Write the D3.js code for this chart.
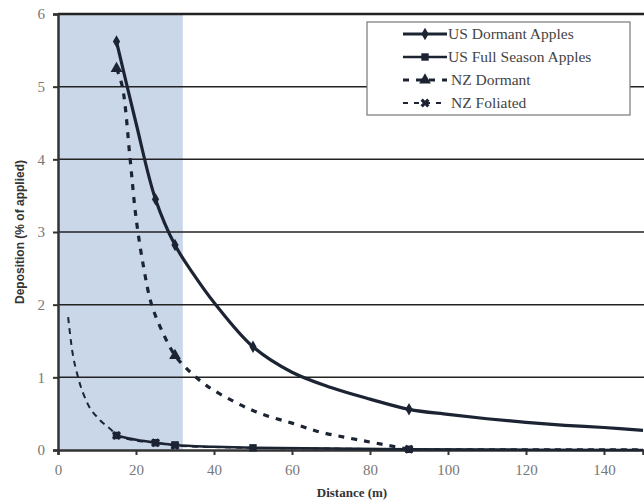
<!DOCTYPE html>
<html>
<head>
<meta charset="utf-8">
<script src="https://cdn.jsdelivr.net/npm/d3@7"></script>
<style>
	body { margin: 0; background: #fff; }
	svg { display: block; }
</style>
</head>
<body>
<svg id="plot" width="644" height="504"></svg>
<script>
// measured points (markers)
const US_DORMANT_X = [15, 25, 30, 50, 90];
const US_DORMANT_Y = [5.62, 3.45, 2.82, 1.42, 0.56];
const US_FULL_X = [15, 25, 30, 50, 90];
const US_FULL_Y = [0.20, 0.10, 0.07, 0.03, 0.01];
const NZ_DORMANT_X = [15, 30];
const NZ_DORMANT_Y = [5.25, 1.30];
const NZ_FOLIATED_X = [15, 25, 30, 90];
const NZ_FOLIATED_Y = [0.20, 0.10, 0.06, 0.01];

// fitted curves
const US_DORMANT_CURVE_X = [15, 20, 25, 30, 35, 40, 50, 60, 70, 80, 90, 100, 110, 120, 130, 140, 150];
const US_DORMANT_CURVE_Y = [5.62, 4.5, 3.45, 2.82, 2.4, 2.03, 1.42, 1.07, 0.86, 0.70, 0.56, 0.49, 0.43, 0.38, 0.34, 0.31, 0.27];
const US_FULL_CURVE_X = [15, 20, 25, 30, 40, 50, 70, 90, 120, 150];
const US_FULL_CURVE_Y = [0.20, 0.14, 0.10, 0.07, 0.045, 0.03, 0.02, 0.01, 0.005, 0.0];
const NZ_DORMANT_CURVE_X = [15, 16.5, 18.5, 20, 22, 24, 27, 30, 33, 38, 45, 52, 60, 67, 74, 80, 85, 90];
const NZ_DORMANT_CURVE_Y = [5.25, 5.0, 4.0, 3.2, 2.5, 2.0, 1.6, 1.3, 1.12, 0.89, 0.67, 0.5, 0.37, 0.25, 0.17, 0.11, 0.06, 0.01];
const NZ_FOLIATED_CURVE_X = [2.6, 3.5, 5.2, 7.4, 10.8, 13.8, 15, 20, 25, 30, 40, 50, 70, 90, 110, 130, 150];
const NZ_FOLIATED_CURVE_Y = [1.83, 1.42, 0.99, 0.66, 0.41, 0.27, 0.2, 0.13, 0.1, 0.06, 0.04, 0.03, 0.02, 0.01, 0.01, 0.01, 0.01];

const X_TICKS = [0, 20, 40, 60, 80, 100, 120, 140];
const Y_TICKS = [0, 1, 2, 3, 4, 5, 6];
const SHADE_X = [0, 32];
const LEGEND_LABELS = ['US Dormant Apples', 'US Full Season Apples', 'NZ Dormant', 'NZ Foliated'];

const INK = '#1c2433';

function zip(xs, ys) {
	return xs.map((x, i) => ({ x: x, y: ys[i] }));
}

function drawChart() {
	const svg = d3.select('#plot');
	const x = d3.scaleLinear().domain([0, 150]).range([58, 643]);
	const y = d3.scaleLinear().domain([0, 6]).range([450, 14]);

	/* shaded band near the orchard */
	svg.append('rect')
		.attr('x', x(SHADE_X[0]))
		.attr('y', y(6))
		.attr('width', x(SHADE_X[1]) - x(SHADE_X[0]))
		.attr('height', y(0) - y(6))
		.style('fill', '#c9d7e8');

	/* horizontal grid */
	svg.append('g')
		.selectAll('line')
		.data(Y_TICKS.filter(d => d > 0))
		.enter().append('line')
			.attr('x1', x(0))
			.attr('x2', 644)
			.attr('y1', d => y(d))
			.attr('y2', d => y(d))
			.style('stroke', '#222')
			.style('stroke-width', d => d === 6 ? 2.5 : 1.5);

	/* axes */
	const yAxis = svg.append('g')
		.attr('transform', `translate(${x(0)},0)`)
		.call(d3.axisLeft(y).tickValues(Y_TICKS).tickSize(5).tickFormat(d3.format('d')));
	const xAxis = svg.append('g')
		.attr('transform', `translate(0,${y(0)})`)
		.call(d3.axisBottom(x).tickValues(X_TICKS).tickSize(5).tickFormat(d3.format('d')));
	[yAxis, xAxis].forEach(g => {
		g.select('.domain').style('stroke', '#333').style('stroke-width', 2.5);
		g.selectAll('.tick line').style('stroke', '#333').style('stroke-width', 2);
		g.selectAll('.tick text')
			.style('font-family', 'Liberation Serif, serif')
			.style('font-size', '15px')
			.style('fill', '#777');
	});
	yAxis.selectAll('.tick text').attr('x', -13);
	xAxis.selectAll('.tick text').attr('y', 14);

	/* curves */
	const smooth = d3.line()
		.x(d => x(d.x))
		.y(d => y(d.y))
		.curve(d3.curveCatmullRom.alpha(0.5));
	const flat = d3.line()
		.x(d => x(d.x))
		.y(d => y(d.y))
		.curve(d3.curveMonotoneX);

	svg.append('path')
		.attr('d', flat(zip(NZ_FOLIATED_CURVE_X, NZ_FOLIATED_CURVE_Y)))
		.style('fill', 'none').style('stroke', INK)
		.style('stroke-width', 2).style('stroke-dasharray', '6,5');
	svg.append('path')
		.attr('d', smooth(zip(NZ_DORMANT_CURVE_X, NZ_DORMANT_CURVE_Y)))
		.style('fill', 'none').style('stroke', INK)
		.style('stroke-width', 3.2).style('stroke-dasharray', '6,7');
	svg.append('path')
		.attr('d', flat(zip(US_FULL_CURVE_X, US_FULL_CURVE_Y)))
		.style('fill', 'none').style('stroke', INK)
		.style('stroke-width', 2.5);
	svg.append('path')
		.attr('d', smooth(zip(US_DORMANT_CURVE_X, US_DORMANT_CURVE_Y)))
		.style('fill', 'none').style('stroke', INK)
		.style('stroke-width', 3.2);

	/* markers */
	const sym = (type, size) => d3.symbol().type(type).size(size)();
	const series = [
		{ x: US_DORMANT_X, y: US_DORMANT_Y, shape: sym(d3.symbolDiamond, 45), rot: 0 },
		{ x: US_FULL_X, y: US_FULL_Y, shape: sym(d3.symbolSquare, 55), rot: 0 },
		{ x: NZ_DORMANT_X, y: NZ_DORMANT_Y, shape: sym(d3.symbolTriangle, 60), rot: 0 },
		{ x: NZ_FOLIATED_X, y: NZ_FOLIATED_Y, shape: sym(d3.symbolCross, 50), rot: 45 }
	];
	series.forEach(s => {
		svg.append('g').selectAll('path')
			.data(zip(s.x, s.y))
			.enter().append('path')
				.attr('d', s.shape)
				.attr('transform', d => `translate(${x(d.x)},${y(d.y)}) rotate(${s.rot})`)
				.style('fill', INK);
	});

	/* axis titles */
	svg.append('text')
		.attr('transform', 'translate(24,232) rotate(-90)')
		.attr('text-anchor', 'middle')
		.style('font-family', 'Liberation Sans, Arial, sans-serif')
		.style('font-weight', 'bold')
		.style('font-size', '12px')
		.style('fill', '#333')
		.text('Deposition (% of applied)');
	svg.append('text')
		.attr('x', 352)
		.attr('y', 497)
		.attr('text-anchor', 'middle')
		.style('font-family', 'Liberation Serif, serif')
		.style('font-weight', 'bold')
		.style('font-size', '13px')
		.style('fill', '#333')
		.text('Distance (m)');

	/* legend */
	const legend = svg.append('g');
	legend.append('rect')
		.attr('x', 367).attr('y', 22)
		.attr('width', 263).attr('height', 93)
		.style('fill', '#fff').style('stroke', '#777').style('stroke-width', 1.2);
	const rowY = [34, 57, 80, 103];
	const legendStyle = [
		{ dash: null, width: 3, shape: series[0].shape, rot: 0 },
		{ dash: null, width: 2.5, shape: series[1].shape, rot: 0 },
		{ dash: '6,7', width: 3, shape: series[2].shape, rot: 0 },
		{ dash: '5,6', width: 2, shape: series[3].shape, rot: 45 }
	];
	LEGEND_LABELS.forEach((label, i) => {
		const st = legendStyle[i];
		legend.append('line')
			.attr('x1', 403).attr('x2', 447)
			.attr('y1', rowY[i]).attr('y2', rowY[i])
			.style('stroke', INK).style('stroke-width', st.width)
			.style('stroke-dasharray', st.dash);
		legend.append('path')
			.attr('d', st.shape)
			.attr('transform', `translate(425,${rowY[i]}) rotate(${st.rot})`)
			.style('fill', INK);
		legend.append('text')
			.attr('x', i < 2 ? 448 : 451)
			.attr('y', rowY[i] + 5)
			.style('font-family', 'Liberation Serif, serif')
			.style('font-size', '15.5px')
			.style('fill', '#444')
			.text(label);
	});
}

drawChart();
</script>
</body>
</html>
